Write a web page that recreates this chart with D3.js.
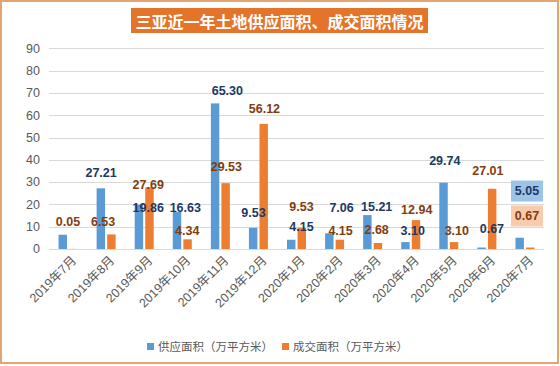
<!DOCTYPE html>
<html>
<head>
<meta charset="utf-8">
<script src="https://cdn.jsdelivr.net/npm/d3@7"></script>
<style>
  html, body { margin: 0; padding: 0; background: #fff; }
  svg { display: block; }
</style>
</head>
<body>
<svg id="chart" width="560" height="366"></svg>
<script>
// ---- data ----
const title = "三亚近一年土地供应面积、成交面积情况";
const categories = ["2019年7月","2019年8月","2019年9月","2019年10月","2019年11月","2019年12月",
  "2020年1月","2020年2月","2020年3月","2020年4月","2020年5月","2020年6月","2020年7月"];
const seriesNames = ["供应面积（万平方米）", "成交面积（万平方米）"];
const supply = [6.4, 27.21, 19.86, 16.63, 65.30, 9.53, 4.15, 7.06, 15.21, 3.10, 29.74, 0.67, 5.05];
const deal   = [0.05, 6.53, 27.69, 4.34, 29.53, 56.12, 9.53, 4.15, 2.68, 12.94, 3.10, 27.01, 0.67];
// label texts as printed in the chart (null = no label)
const supplyLabels = [null, "27.21","19.86","16.63","65.30","9.53","4.15","7.06","15.21","3.10","29.74","0.67","5.05"];
const dealLabels   = ["0.05","6.53","27.69","4.34","29.53","56.12","9.53","4.15","2.68","12.94","3.10","27.01","0.67"];
const yTicks = [0,10,20,30,40,50,60,70,80,90];

// ---- layout (label anchors in value units, as placed in the original) ----
const supplyLabelAt = [null, 34.1, 18.4, 18.4, 70.9, 16.1, 9.9, 18.4, 18.8, 8.1, 39.5, 9.0, 26.0];
const dealLabelAt   = [12.1, 12.1, 28.7, 8.1, 36.8, 62.8, 18.8, 8.1, 8.5, 17.5, 8.1, 35.0, 14.8];
const supplyLabelDx = [0, -5, 4, 3, 7, -5, 5, 7, 4, 2, -4, 5, 2];
const dealLabelDx   = [0, -3, 4, 5, 6, 6, 5, 6, 4, 6, 8, 1, 2];

const W = 560, H = 366;
const svg = d3.select("#chart");
const colors = ["#5B9BD5", "#ED7D31"];
const labelColors = ["#203864", "#843C0C"];

// border
svg.append("rect").attr("x", 1).attr("y", 1).attr("width", W - 3).attr("height", H - 4)
  .attr("fill", "#fff").attr("stroke", "#E2A472").attr("stroke-width", 2);

// title
svg.append("rect").attr("x", 131).attr("y", 8).attr("width", 297).attr("height", 25).attr("fill", "#E5742B");
svg.append("text").attr("x", 279.5).attr("y", 21).attr("text-anchor", "middle")
  .attr("dominant-baseline", "central")
  .attr("font-family", "'Noto Sans CJK SC', sans-serif").attr("font-weight", "bold")
  .attr("font-size", 16).attr("fill", "#fff").text(title);

// scales
const x = d3.scaleBand().domain(categories).range([49, 544]).padding(0);
const xs = d3.scaleBand().domain([0, 1]).range([-9.5, 9.5]).paddingInner(0.2);
const y = d3.scaleLinear().domain([0, 90]).range([249, 48.3]);

// grid
svg.append("g").selectAll("line").data(yTicks).join("line")
  .attr("x1", 49).attr("x2", 544)
  .attr("y1", d => Math.round(y(d)) + 0.5).attr("y2", d => Math.round(y(d)) + 0.5)
  .attr("stroke", "#D9D9D9").attr("stroke-width", 1);

// y axis labels
svg.append("g").selectAll("text").data(yTicks).join("text")
  .attr("x", 40).attr("y", d => y(d)).attr("dy", "0.35em").attr("text-anchor", "end")
  .attr("font-family", "'Liberation Sans', Arial, sans-serif").attr("font-size", 12.5)
  .attr("fill", "#595959").text(d => d);

// bars
const series = [supply, deal];
series.forEach((vals, si) => {
  svg.append("g").selectAll("rect").data(vals).join("rect")
    .attr("x", (d, i) => x(categories[i]) + x.bandwidth() / 2 + xs(si))
    .attr("width", xs.bandwidth())
    .attr("y", d => y(d))
    .attr("height", d => y(0) - y(d))
    .attr("fill", colors[si]);
});

// data labels
const labelSets = [
  {texts: supplyLabels, at: supplyLabelAt, dx: supplyLabelDx, si: 0},
  {texts: dealLabels, at: dealLabelAt, dx: dealLabelDx, si: 1}
];
const boxFills = ["#9DC3E6", "#F8CBAD"];
labelSets.forEach(ls => {
  ls.texts.forEach((t, i) => {
    if (t === null) return;
    const cx = x(categories[i]) + x.bandwidth() / 2 + ls.dx[i];
    const cy = y(ls.at[i]);
    if (i === categories.length - 1) {
      svg.append("rect").attr("x", cx - 16).attr("y", cy - 10.5).attr("width", 32).attr("height", 21)
        .attr("fill", boxFills[ls.si]);
    }
    svg.append("text").attr("x", cx).attr("y", cy).attr("dy", "0.35em")
      .attr("text-anchor", "middle")
      .attr("font-family", "'Liberation Sans', Arial, sans-serif").attr("font-weight", "bold")
      .attr("font-size", 12.5).attr("fill", labelColors[ls.si]).text(t);
  });
});

// x labels
svg.append("g").selectAll("text").data(categories).join("text")
  .attr("transform", d => `translate(${x(d) + x.bandwidth() / 2 + 6},${258}) rotate(-45)`)
  .attr("text-anchor", "end").attr("dy", "0.35em")
  .attr("font-family", "'Liberation Sans', 'Noto Sans CJK SC', sans-serif").attr("font-size", 12.5)
  .attr("fill", "#595959").text(d => d);

// legend
const legendX = [147, 282];
seriesNames.forEach((n, si) => {
  svg.append("rect").attr("x", legendX[si]).attr("y", 343).attr("width", 7).attr("height", 7).attr("fill", colors[si]);
  svg.append("text").attr("x", legendX[si] + 11).attr("y", 346.5).attr("dy", "0.35em")
    .attr("font-family", "'Noto Sans CJK SC', sans-serif").attr("font-size", 11.5)
    .attr("fill", "#595959").text(n);
});
</script>
</body>
</html>
